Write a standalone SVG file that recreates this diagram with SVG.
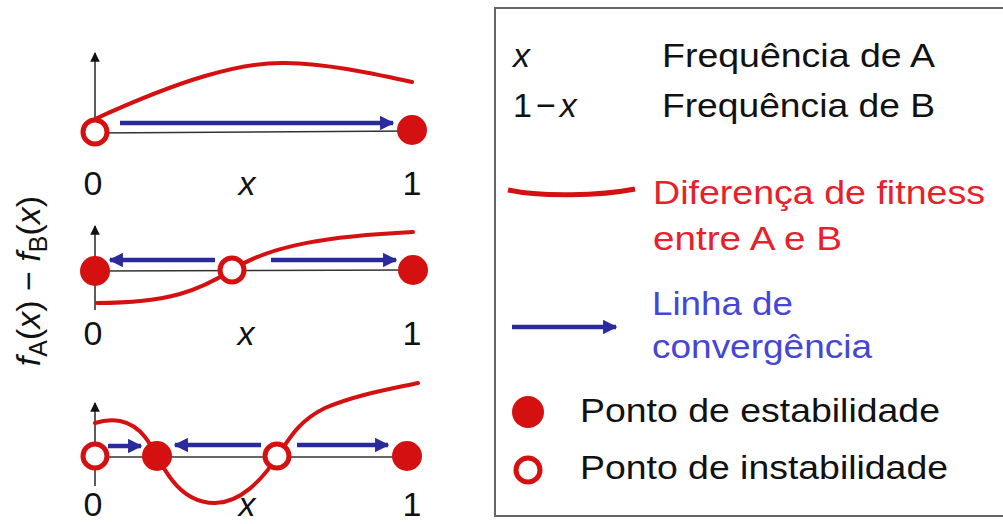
<svg xmlns="http://www.w3.org/2000/svg" width="1003" height="524" viewBox="0 0 1003 524">
<defs>
<style>
text{font-family:"Liberation Sans",Arial,sans-serif;}
.lbl{font-size:34px;fill:#111;}
.it{font-style:italic;}
.axis{stroke:#333;stroke-width:1.6;fill:none;}
.curve{stroke:#d41010;stroke-width:4;fill:none;stroke-linecap:round;}
.conv{stroke:#2a2a9c;stroke-width:4.5;fill:none;}
.stable{fill:#d41010;}
.unstable{fill:#fff;stroke:#d41010;stroke-width:5;}
.leg{font-size:34px;fill:#111;}
.red{fill:#e8202a;}
.blue{fill:#4646d6;}
</style>
<marker id="ah" viewBox="0 0 10 10" refX="9" refY="5" markerWidth="3.4" markerHeight="3.2" orient="auto" markerUnits="strokeWidth">
<path d="M0,0 L10,5 L0,10 z" fill="#2a2a9c"/>
</marker>
<marker id="ax" viewBox="0 0 10 10" refX="9" refY="5" markerWidth="8" markerHeight="6" orient="auto" markerUnits="strokeWidth">
<path d="M0,0 L10,5 L0,10 z" fill="#111"/>
</marker>
</defs>
<rect width="1003" height="524" fill="#fff"/>

<g id="ylabel">
<text class="lbl" transform="translate(40,281) rotate(-90)" text-anchor="middle"><tspan class="it">f</tspan><tspan font-size="25" dy="7">A</tspan><tspan dy="-7">(</tspan><tspan class="it">x</tspan><tspan>) − </tspan><tspan class="it">f</tspan><tspan font-size="25" dy="7">B</tspan><tspan dy="-7">(</tspan><tspan class="it">x</tspan><tspan>)</tspan></text>
</g>

<g id="panel1">
<line class="axis" x1="95" y1="133" x2="95" y2="53" marker-end="url(#ax)"/>
<line class="axis" x1="95" y1="133" x2="412" y2="131"/>
<path class="curve" d="M95,119 C180,80 240,62 285,63 C330,64 370,73 412,82"/>
<circle class="unstable" cx="95" cy="132" r="12"/>
<circle class="stable" cx="412" cy="130" r="15"/>
<text class="lbl" x="93" y="195" text-anchor="middle">0</text>
<text class="lbl it" x="247" y="195" text-anchor="middle">x</text>
<text class="lbl" x="412" y="195" text-anchor="middle">1</text>
</g>

<g id="panel2">
<line class="axis" x1="95" y1="310" x2="95" y2="226" marker-end="url(#ax)"/>
<line class="axis" x1="95" y1="271" x2="413" y2="270"/>
<path class="curve" d="M97,303 C170,303 200,290 232,270 C270,245 330,236 413,232"/>
<circle class="stable" cx="95" cy="271" r="15"/>
<circle class="unstable" cx="232" cy="270" r="12"/>
<circle class="stable" cx="413" cy="270" r="15"/>
<text class="lbl" x="93" y="345" text-anchor="middle">0</text>
<text class="lbl it" x="246" y="345" text-anchor="middle">x</text>
<text class="lbl" x="412" y="345" text-anchor="middle">1</text>
</g>

<g id="panel3">
<line class="axis" x1="95" y1="486" x2="95" y2="403" marker-end="url(#ax)"/>
<line class="axis" x1="95" y1="457" x2="407" y2="457"/>
<path class="curve" d="M95,423 C110,418 130,418 145,437 C155,450 160,465 172,480 C185,497 200,503 215,503 C240,503 262,480 277,457 C290,437 300,420 325,408 C355,395 390,389 418,383"/>
<circle class="unstable" cx="95" cy="456" r="12"/>
<circle class="stable" cx="157" cy="456" r="15"/>
<circle class="unstable" cx="277" cy="456" r="12"/>
<circle class="stable" cx="407" cy="456" r="15"/>
<text class="lbl" x="93" y="516" text-anchor="middle">0</text>
<text class="lbl it" x="247" y="516" text-anchor="middle">x</text>
<text class="lbl" x="412" y="516" text-anchor="middle">1</text>
</g>

<g id="connectors">
<line class="conv" x1="120" y1="123" x2="393" y2="123" marker-end="url(#ah)"/>
<line class="conv" x1="215" y1="260" x2="110" y2="260" marker-end="url(#ah)"/>
<line class="conv" x1="271" y1="260" x2="396" y2="260" marker-end="url(#ah)"/>
<line class="conv" x1="108" y1="446" x2="141" y2="446" marker-end="url(#ah)"/>
<line class="conv" x1="261" y1="445" x2="175" y2="445" marker-end="url(#ah)"/>
<line class="conv" x1="297" y1="445" x2="388" y2="445" marker-end="url(#ah)"/>
</g>

<g id="legend">
<rect x="495" y="8" width="520" height="508" fill="none" stroke="#666" stroke-width="2"/>
<text class="leg it" x="513" y="67">x</text>
<text class="leg" x="662" y="67" textLength="273" lengthAdjust="spacingAndGlyphs">Frequência de A</text>
<text class="leg" x="513" y="117">1<tspan dx="4">−</tspan><tspan class="it" dx="4">x</tspan></text>
<text class="leg" x="662" y="117" textLength="273" lengthAdjust="spacingAndGlyphs">Frequência de B</text>
<path d="M508,190 C540,197 600,196 635,189" stroke="#d41010" stroke-width="5" fill="none"/>
<text class="leg red" x="653" y="204" textLength="332" lengthAdjust="spacingAndGlyphs">Diferença de fitness</text>
<text class="leg red" x="653" y="250" textLength="189" lengthAdjust="spacingAndGlyphs">entre A e B</text>
<line class="conv" x1="512" y1="327" x2="616" y2="327" marker-end="url(#ah)"/>
<text class="leg blue" x="652" y="315" textLength="141" lengthAdjust="spacingAndGlyphs">Linha de</text>
<text class="leg blue" x="652" y="358" textLength="220" lengthAdjust="spacingAndGlyphs">convergência</text>
<circle class="stable" cx="528" cy="412" r="16"/>
<text class="leg" x="580" y="422" textLength="360" lengthAdjust="spacingAndGlyphs">Ponto de estabilidade</text>
<circle class="unstable" cx="528" cy="470" r="12"/>
<text class="leg" x="580" y="479" textLength="368" lengthAdjust="spacingAndGlyphs">Ponto de instabilidade</text>
</g>
</svg>
